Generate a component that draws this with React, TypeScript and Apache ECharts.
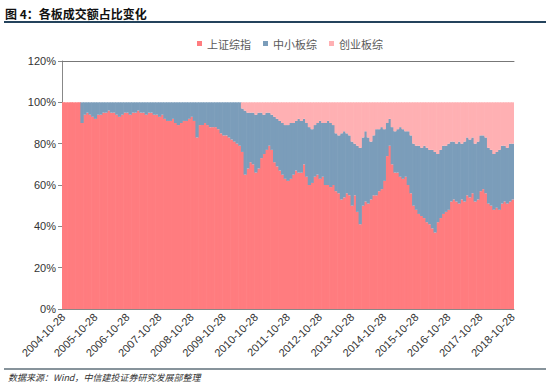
import React, { useEffect, useRef } from "react";
import * as echarts from "echarts";

const yearLabels = [
  "2004", "2005", "2006", "2007", "2008", "2009", "2010", "2011",
  "2012", "2013", "2014", "2015", "2016", "2017", "2018", "2019",
];
const monthLabels = ["10", "11", "12", "01", "02", "03", "04", "05", "06", "07", "08", "09"];

// 上证综指 share (%), monthly from 2004-10 to 2018-10
const shShare = [
  100, 100, 100, 100, 100, 100, 100, 90, 94, 95, 94, 93,
  92, 94, 94, 95, 95, 96, 95, 95, 94, 93, 94, 95,
  95, 94, 95, 95, 96, 95, 95, 94, 95, 95, 94, 94,
  93, 94, 92, 91, 91, 92, 90, 89, 90, 91, 91, 92,
  93, 91, 83, 89, 89, 90, 89, 88, 88, 88, 87, 85,
  84, 84, 83, 82, 81, 80, 79, 76, 65, 68, 71, 70,
  66, 68, 73, 75, 77, 79, 77, 71, 69, 67, 65, 63,
  62, 63, 65, 67, 66, 66, 70, 64, 60, 61, 64, 65,
  63, 64, 60, 60, 59, 60, 57, 56, 53, 54, 56, 55,
  50, 55, 47, 41, 50, 52, 51, 53, 55, 55, 57, 58,
  62, 74, 79, 70, 66, 66, 64, 63, 64, 60, 56, 50,
  48, 46, 45, 44, 42, 41, 39, 37, 42, 44, 46, 47,
  48, 52, 53, 52, 51, 53, 52, 55, 54, 56, 52, 53,
  57, 58, 56, 51, 50, 48, 49, 48, 51, 52, 51, 52,
  53,
];

// 中小板综 share (%)
const smeShare = [
  0, 0, 0, 0, 0, 0, 0, 10, 6, 5, 6, 7,
  8, 6, 6, 5, 5, 4, 5, 5, 6, 7, 6, 5,
  5, 6, 5, 5, 4, 5, 5, 6, 5, 5, 6, 6,
  7, 6, 8, 9, 9, 8, 10, 11, 10, 9, 9, 8,
  7, 9, 17, 11, 11, 10, 11, 12, 12, 12, 13, 15,
  16, 16, 17, 18, 19, 20, 21, 21, 31, 27, 24, 25,
  28, 27, 22, 19, 18, 16, 17, 22, 23, 24, 25, 26,
  27, 27, 25, 24, 26, 25, 22, 26, 28, 26, 25, 25,
  28, 26, 30, 31, 31, 29, 28, 28, 32, 32, 29, 29,
  31, 25, 32, 37, 33, 34, 32, 28, 29, 32, 30, 30,
  25, 16, 13, 18, 20, 21, 24, 24, 22, 26, 28, 30,
  31, 33, 33, 35, 36, 36, 38, 39, 33, 33, 33, 32,
  32, 29, 28, 28, 30, 27, 29, 28, 28, 27, 28, 28,
  27, 26, 27, 27, 27, 27, 27, 29, 28, 27, 27, 28,
  27,
];

// 创业板综 share (%)
const gemShare = [
  0, 0, 0, 0, 0, 0, 0, 0, 0, 0, 0, 0,
  0, 0, 0, 0, 0, 0, 0, 0, 0, 0, 0, 0,
  0, 0, 0, 0, 0, 0, 0, 0, 0, 0, 0, 0,
  0, 0, 0, 0, 0, 0, 0, 0, 0, 0, 0, 0,
  0, 0, 0, 0, 0, 0, 0, 0, 0, 0, 0, 0,
  0, 0, 0, 0, 0, 0, 0, 3, 4, 5, 5, 5,
  6, 5, 5, 6, 5, 5, 6, 7, 8, 9, 10, 11,
  11, 10, 10, 9, 8, 9, 8, 10, 12, 13, 11, 10,
  9, 10, 10, 9, 10, 11, 15, 16, 15, 14, 15, 16,
  19, 20, 21, 22, 17, 14, 17, 19, 16, 13, 13, 12,
  13, 10, 8, 12, 14, 13, 12, 13, 14, 14, 16, 20,
  21, 21, 22, 21, 22, 23, 23, 24, 25, 23, 21, 21,
  20, 19, 19, 20, 19, 20, 19, 17, 18, 17, 20, 19,
  16, 16, 17, 22, 23, 25, 24, 23, 21, 21, 22, 20,
  20,
];

const seriesNames = ["上证综指", "中小板综", "创业板综"];

// month categories: index 0 = 2004-10-28, every 12th = one year later
const categories: string[] = shShare.map((_, i) => {
  const m = i % 12;
  const yr = m <= 2 ? yearLabels[Math.floor(i / 12)] : yearLabels[Math.floor(i / 12) + 1];
  return `${yr}-${monthLabels[m]}-28`;
});

export default function App() {
  const ref = useRef<HTMLDivElement>(null);
  useEffect(() => {
    if (!ref.current) return;
    const chart = echarts.init(ref.current, undefined, { renderer: "svg" });
    const colors = ["#FF7C7F", "#7B9DBA", "#FFB0B3"];
    chart.setOption({
      animation: false,
      color: colors,
      legend: {
        data: seriesNames,
        left: 192,
        top: 33,
        icon: "rect",
        itemWidth: 5,
        itemHeight: 5,
        itemGap: 12,
        textStyle: { fontSize: 11, color: "#595959", fontFamily: "Noto Sans CJK SC" },
      },
      grid: { left: 62, right: 36, top: 61, bottom: 82 },
      xAxis: [
        {
          type: "category",
          data: categories,
          boundaryGap: true,
          axisLine: { lineStyle: { color: "#888" } },
          axisTick: { interval: 11, alignWithLabel: true, length: 4, lineStyle: { color: "#888" } },
          axisLabel: {
            interval: 11,
            rotate: 45,
            fontSize: 11,
            color: "#333",
            fontFamily: "Liberation Sans",
            margin: 6,
          },
        },
        {
          type: "category",
          data: categories,
          position: "top",
          axisLine: { show: true, lineStyle: { color: "#777" } },
          axisTick: { show: false },
          axisLabel: { show: false },
        },
      ],
      yAxis: {
        type: "value",
        min: 0,
        max: 120,
        interval: 20,
        axisLine: { show: true, lineStyle: { color: "#888" } },
        axisTick: { show: true, length: 4, lineStyle: { color: "#888" } },
        splitLine: { show: false },
        axisLabel: {
          formatter: "{value}%",
          fontSize: 11,
          color: "#333",
          fontFamily: "Liberation Sans",
          margin: 6,
        },
      },
      series: [
        { name: seriesNames[0], type: "bar", stack: "total", data: shShare, barWidth: 3.3 },
        { name: seriesNames[1], type: "bar", stack: "total", data: smeShare, barWidth: 3.3 },
        { name: seriesNames[2], type: "bar", stack: "total", data: gemShare, barWidth: 3.3 },
      ],
      graphic: [
        {
          type: "text",
          left: 5,
          top: 7,
          style: {
            text: "图 4：各板成交额占比变化",
            fontSize: 12,
            fontWeight: "bold",
            fill: "#111",
            fontFamily: "Noto Sans CJK SC",
          },
        },
        {
          type: "line",
          shape: { x1: 4, y1: 22, x2: 546, y2: 22 },
          style: { stroke: "#24435C", lineWidth: 2 },
        },
        {
          type: "line",
          shape: { x1: 4, y1: 369, x2: 546, y2: 369 },
          style: { stroke: "#5F6F7A", lineWidth: 1.5 },
        },
        {
          type: "text",
          left: 8,
          top: 373,
          style: {
            text: "数据来源：Wind，中信建投证券研究发展部整理",
            fontSize: 9,
            fontStyle: "italic",
            fill: "#333",
            fontFamily: "Noto Sans CJK SC",
          },
        },
      ],
    });
    return () => chart.dispose();
  }, []);
  return (
    <div
      ref={ref}
      style={{ position: "fixed", left: 0, top: 0, width: 550, height: 391, background: "#fff" }}
    />
  );
}
